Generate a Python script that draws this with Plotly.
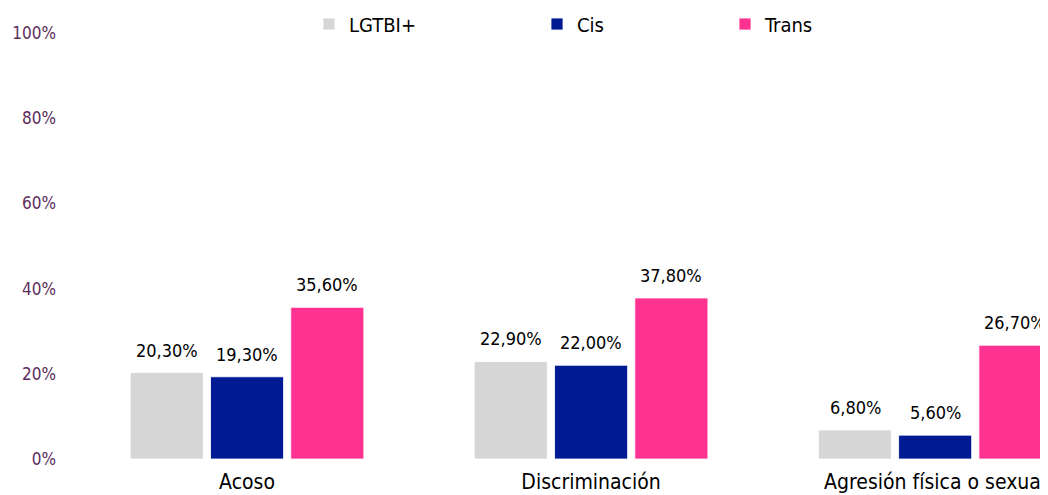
import plotly.graph_objects as go

categories = ["Acoso", "Discriminación", "Agresión física o sexual"]
series_names = ["LGTBI+", "Cis", "Trans"]
lgtbi_values = [20.3, 22.9, 6.8]
cis_values = [19.3, 22.0, 5.6]
trans_values = [35.6, 37.8, 26.7]
colors = ["#D6D6D6", "#001A94", "#FF3191"]
y_ticks = [0, 20, 40, 60, 80, 100]

FONT = "DejaVu Sans Condensed, DejaVu Sans"
all_values = [lgtbi_values, cis_values, trans_values]

# page body has an 8px default margin; figure sized to fit the window
W, H = 1040, 487
OFF = 8

def fmt(v):
    return f"{v:.2f}".replace(".", ",") + "%"

fig = go.Figure()
legend_ids = ["legend", "legend2", "legend3"]
for name, vals, col, lg in zip(series_names, all_values, colors, legend_ids):
    fig.add_trace(go.Bar(
        x=categories, y=vals, name=name,
        marker=dict(color=col, line=dict(color="white", width=0.8)),
        legend=lg, hoverinfo="skip",
    ))

# value labels above bars
slot = 80
for i, vals in enumerate(all_values):
    for c, v in zip(categories, vals):
        fig.add_annotation(
            x=c, y=v, xref="x", yref="y", text=fmt(v), showarrow=False,
            xshift=(i - 1) * slot, yshift=10, yanchor="bottom",
            font=dict(family=FONT, size=18, color="#000000"),
        )

legend_text_x = [349, 577, 765]
legend_common = dict(
    orientation="h", xref="container", yref="container",
    xanchor="left", yanchor="middle", y=1 - 16 / H,
    font=dict(family=FONT, size=20, color="#000000"),
    bgcolor="rgba(0,0,0,0)", borderwidth=0,
)
fig.update_layout(
    legend=dict(x=(legend_text_x[0] - OFF - 40) / W, **legend_common),
    legend2=dict(x=(legend_text_x[1] - OFF - 40) / W, **legend_common),
    legend3=dict(x=(legend_text_x[2] - OFF - 40) / W, **legend_common),
)

fig.update_layout(
    width=W, height=H,
    margin=dict(l=67, r=0, t=25, b=36, autoexpand=False),
    paper_bgcolor="white", plot_bgcolor="white",
    barmode="group", bargap=0.30, bargroupgap=0.09,
    showlegend=True,
    font=dict(family=FONT, size=16),
)
fig.update_xaxes(
    type="category", range=[-0.5, 2.328], showgrid=False, showline=False,
    zeroline=False, ticks="", ticklabelstandoff=8,
    tickfont=dict(family=FONT, size=21, color="#000000"),
)
fig.update_yaxes(
    range=[0, 100], tickvals=y_ticks, ticktext=[f"{t}%" for t in y_ticks],
    showgrid=False, showline=False, zeroline=False, ticks="",
    ticklabelstandoff=18,
    tickfont=dict(family=FONT, size=17, color="#5C2D5C"),
)

fig.write_html("out.html")
